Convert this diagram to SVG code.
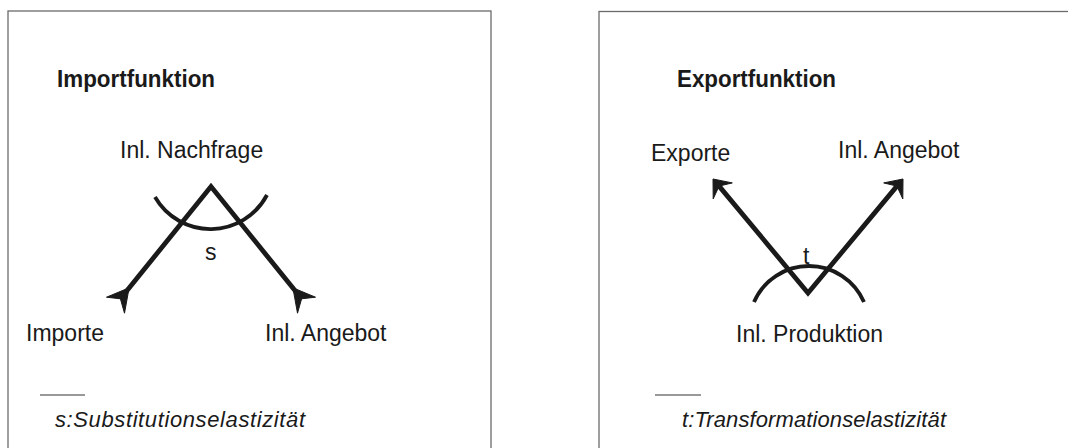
<svg xmlns="http://www.w3.org/2000/svg" width="1068" height="448" viewBox="0 0 1068 448">
<style>
.frame{fill:#fff;stroke:#6b6b6b;stroke-width:1.3}
.title{font-family:"Liberation Sans",Arial,sans-serif;font-weight:bold;font-size:23px;fill:#1a1a1a}
.lbl{font-family:"Liberation Sans",Arial,sans-serif;font-size:23px;fill:#1a1a1a}
.note{font-family:"Liberation Sans",Arial,sans-serif;font-style:italic;font-size:22px;fill:#1a1a1a}
.ln{fill:none;stroke:#1a1a1a;stroke-width:4.8;stroke-linejoin:miter;stroke-miterlimit:10}
.arc{fill:none;stroke:#1a1a1a;stroke-width:3.8}
.head{fill:#1a1a1a;stroke:#1a1a1a;stroke-width:1;stroke-linejoin:miter}
.rule{stroke:#333;stroke-width:1}
</style>
<rect width="1068" height="448" fill="#fff"/>
<g id="import-panel">
  <rect class="frame" x="8" y="11" width="483" height="460"/>
  <text class="title" x="57" y="87" textLength="158" lengthAdjust="spacingAndGlyphs">Importfunktion</text>
</g>
<g id="export-panel">
  <rect class="frame" x="599" y="11.5" width="500" height="460"/>
  <text class="title" x="677" y="87" textLength="159" lengthAdjust="spacingAndGlyphs">Exportfunktion</text>
</g>
<g id="node-inl-nachfrage"><text class="lbl" x="120" y="158">Inl. Nachfrage</text></g>
<g id="node-importe"><text class="lbl" x="26" y="341">Importe</text></g>
<g id="node-inl-angebot-1"><text class="lbl" x="265" y="341">Inl. Angebot</text></g>
<g id="node-exporte"><text class="lbl" x="651" y="161">Exporte</text></g>
<g id="node-inl-angebot-2"><text class="lbl" x="838" y="158">Inl. Angebot</text></g>
<g id="node-inl-produktion"><text class="lbl" x="736" y="342">Inl. Produktion</text></g>
<g id="connectors">
  <!-- import: inverted V with tail heads -->
  <polyline class="ln" points="120.4,298.8 211,186.5 301.6,298.8"/>
  <polygon class="head" points="129.1,287.8 106.5,297.2 120.4,298.8 124.5,313.2"/>
  <polygon class="head" points="292.9,287.8 315.5,297.2 301.6,298.8 297.5,313.2"/>
  <path class="arc" d="M155,197 A64,64 0 0 0 267,195"/>
  <!-- export: V with arrow heads -->
  <polyline class="ln" points="719.1,186.1 808,293 896.9,186.1"/>
  <polygon class="head" points="713,179 732.3,182.9 719.1,186.1 713.2,198.9"/>
  <polygon class="head" points="903,179 883.7,182.9 896.9,186.1 902.8,198.9"/>
  <path class="arc" d="M754,302 A60,60 0 0 1 864,302"/>
</g>
<g id="angle-labels">
  <text class="lbl" x="205" y="260">s</text>
  <text class="lbl" x="803" y="264">t</text>
</g>
<g id="footnotes">
  <line class="rule" x1="40" y1="395" x2="85" y2="395"/>
  <text class="note" x="55" y="427" textLength="250" lengthAdjust="spacing">s:Substitutionselastizität</text>
  <line class="rule" x1="655" y1="395" x2="701" y2="395"/>
  <text class="note" x="682" y="427" textLength="264" lengthAdjust="spacing">t:Transformationselastizität</text>
</g>
</svg>
